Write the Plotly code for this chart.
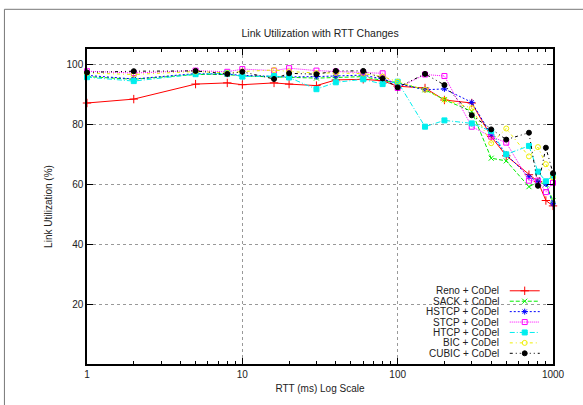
import plotly.graph_objects as go

# RTT values (ms) and link utilization (%) per TCP variant
rtt = [1, 2, 5, 8, 10, 16, 20, 30, 40, 60, 80, 100, 150, 200, 300, 400, 500, 700, 800, 900, 1000]

reno  = [87.0, 88.3, 93.3, 93.7, 93.1, 93.7, 93.3, 92.8, 94.7, 94.9, 94.4, 92.6, 92.0, 88.0, 87.0, 75.8, 69.4, 63.1, 60.8, 54.5, 52.7]
sack  = [95.8, 94.9, 96.5, 96.5, 96.0, 95.6, 95.5, 95.3, 95.5, 95.8, 94.5, 93.8, 91.4, 88.1, 84.2, 68.6, 67.7, 59.1, 60.6, 60.0, 54.5]
hstcp = [96.2, 95.0, 96.8, 96.6, 96.2, 95.8, 95.7, 95.8, 96.0, 96.3, 95.0, 93.5, 91.4, 91.7, 87.2, 76.5, 69.9, 62.4, 60.8, 60.0, 53.4]
stcp  = [97.6, 97.0, 97.8, 97.4, 98.3, 97.8, 98.6, 97.8, 97.5, 97.2, 96.9, 92.0, 96.5, 96.0, 79.1, 75.8, 73.8, 61.1, 61.1, 57.3, 60.4]
htcp  = [95.6, 94.3, 96.6, 96.9, 95.8, 96.0, 95.5, 91.6, 93.9, 94.9, 93.3, 94.1, 79.1, 81.2, 80.2, 77.6, 69.9, 72.7, 64.1, 60.9, 62.8]
bic   = [97.0, 96.5, 97.5, 97.0, 97.5, 98.0, 97.5, 97.0, 97.0, 96.8, 95.8, 94.1, 91.4, 88.1, 85.3, 73.6, 78.5, 69.2, 72.3, 66.6, 62.2]
cubic = [97.2, 97.6, 97.7, 96.7, 97.4, 95.0, 96.9, 96.6, 97.7, 97.7, 95.2, 92.2, 96.7, 93.0, 82.9, 78.2, 74.8, 77.1, 59.4, 72.1, 63.6]

names = ["Reno + CoDel", "SACK + CoDel", "HSTCP + CoDel", "STCP + CoDel",
         "HTCP + CoDel", "BIC + CoDel", "CUBIC + CoDel"]
series = [reno, sack, hstcp, stcp, htcp, bic, cubic]

x_ticks = [1, 10, 100, 1000]
y_ticks = [20, 40, 60, 80, 100]

styles = [
    dict(color="#ff0000", dash="solid", symbol="cross-thin-open", size=6),
    dict(color="#00ee00", dash="4px,2px", symbol="x-thin-open", size=5),
    dict(color="#0000ff", dash="2px,2px", symbol="asterisk-open", size=5),
    dict(color="#ff00ff", dash="1px,1px", symbol="square-open", size=5),
    dict(color="#00eeee", dash="5px,2px,1px,2px", symbol="square", size=5),
    dict(color="#eeee00", dash="3px,3px,1px,3px", symbol="circle-open", size=5),
    dict(color="#000000", dash="3px,3px,1px,3px,1px,3px", symbol="circle", size=5),
]

FONT = "Liberation Sans, Arial, sans-serif"
TEXT = "#222222"

fig = go.Figure()

for name, vals, st in zip(names, series, styles):
    fig.add_trace(go.Scatter(
        x=rtt, y=vals, name=name, mode="lines+markers",
        line=dict(color=st["color"], width=1, dash=st["dash"]),
        marker=dict(symbol=st["symbol"], size=st["size"], color=st["color"],
                    line=dict(color=st["color"], width=1)),
        showlegend=False, cliponaxis=False,
    ))

# Key: right-aligned labels with line samples to their right
row0 = 0.2324
step = 0.03307
for i, (name, st) in enumerate(zip(names, styles)):
    yy = row0 - i * step
    fig.add_annotation(x=0.888, y=yy, xref="paper", yref="paper", text=name,
                       showarrow=False, xanchor="right", yanchor="middle",
                       font=dict(family=FONT, size=10, color=TEXT))
    fig.add_trace(go.Scatter(
        x=[0.9072, 0.9715], y=[yy, yy], xaxis="x2", yaxis="y2", mode="lines",
        line=dict(color=st["color"], width=1, dash=st["dash"]),
        showlegend=False, hoverinfo="skip"))
    fig.add_trace(go.Scatter(
        x=[0.9393], y=[yy], xaxis="x2", yaxis="y2", mode="markers",
        marker=dict(symbol=st["symbol"], size=st["size"], color=st["color"],
                    line=dict(color=st["color"], width=1)),
        showlegend=False, hoverinfo="skip"))

# white key background hiding the grid behind it
fig.add_shape(type="rect", xref="paper", yref="paper", x0=0.7164, x1=0.997,
              y0=0.0142, y1=0.2567, fillcolor="white", line=dict(width=0),
              layer="between")

# outer frame
fig.add_shape(type="rect", xref="paper", yref="paper", x0=-0.1772, x1=1.2,
              y0=-0.3, y1=1.126, line=dict(color="#777777", width=1),
              fillcolor="rgba(0,0,0,0)", layer="below")

minor_x = [m * d for d in (1, 10, 100) for m in range(2, 10)]

fig.update_layout(
    width=583, height=405,
    margin=dict(l=86.7, r=29.7, t=49, b=38.5),
    paper_bgcolor="white", plot_bgcolor="white",
    font=dict(family=FONT, size=10, color=TEXT),
    title=dict(text="Link Utilization with RTT Changes", x=0.549, xanchor="center",
               y=1 - 33 / 405, yanchor="middle",
               font=dict(family=FONT, size=10.5, color=TEXT)),
    xaxis=dict(
        type="log", range=[0, 3], tickvals=x_ticks, ticktext=[str(v) for v in x_ticks],
        ticks="inside", ticklen=6, tickwidth=1, tickcolor="#000",
        showline=True, linecolor="#000", linewidth=1.5, mirror="ticks",
        showgrid=True, gridcolor="#999999", griddash="dot", gridwidth=1,
        zeroline=False,
        minor=dict(tickvals=minor_x, ticks="inside", ticklen=3, tickcolor="#000",
                   showgrid=False),
        title=dict(text="RTT (ms) Log Scale", standoff=6,
                   font=dict(family=FONT, size=10, color=TEXT)),
        tickfont=dict(family=FONT, size=10, color=TEXT),
    ),
    yaxis=dict(
        range=[0, 105], tickvals=y_ticks,
        ticks="inside", ticklen=6, tickwidth=1, tickcolor="#000",
        showline=True, linecolor="#000", linewidth=1.5, mirror="ticks",
        showgrid=True, gridcolor="#999999", griddash="dot", gridwidth=1,
        zeroline=False,
        title=dict(text="Link Utilization (%)", standoff=12,
                   font=dict(family=FONT, size=10, color=TEXT)),
        tickfont=dict(family=FONT, size=10, color=TEXT),
    ),
    xaxis2=dict(overlaying="x", range=[0, 1], visible=False, fixedrange=True),
    yaxis2=dict(overlaying="y", range=[0, 1], visible=False, fixedrange=True),
)

fig.write_html("out.html")
